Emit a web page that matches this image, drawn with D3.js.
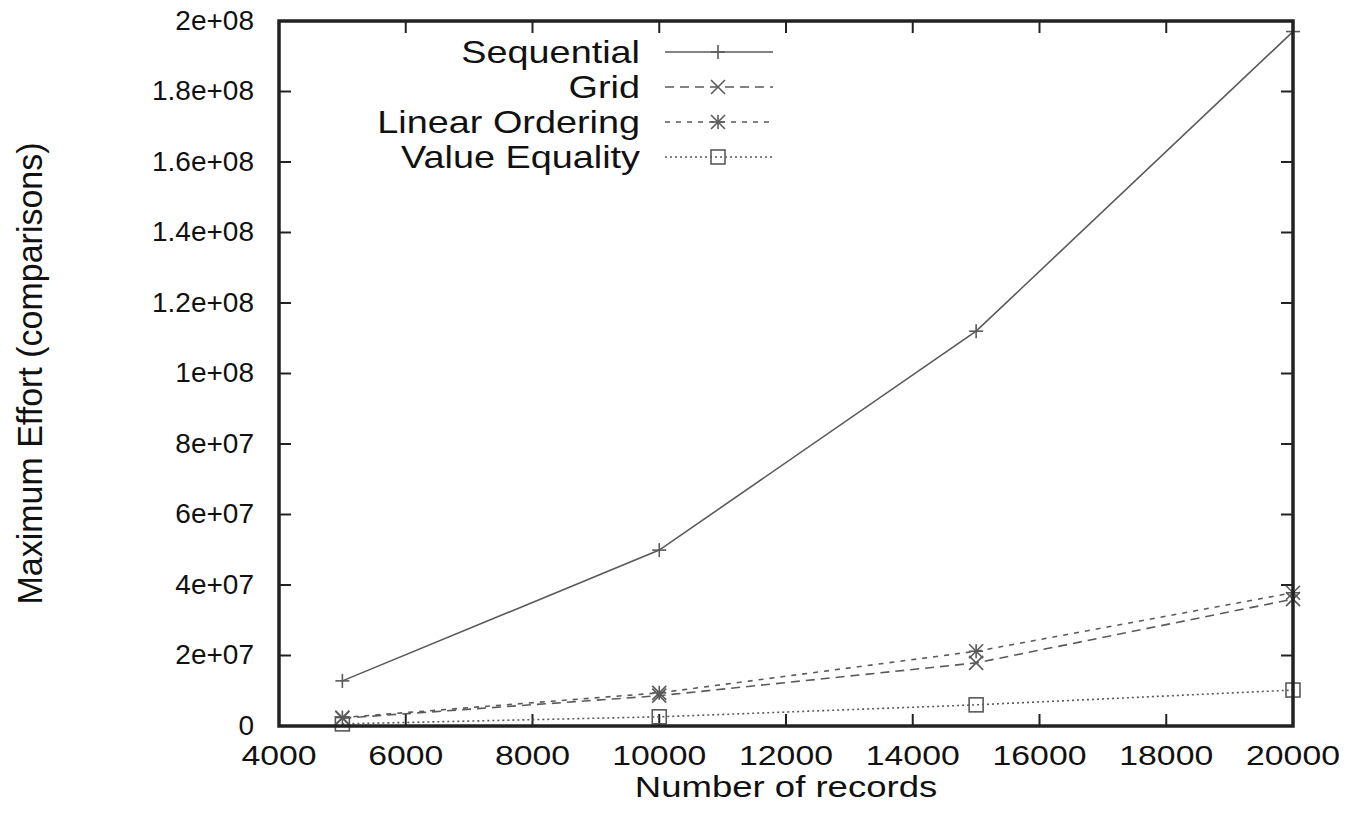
<!DOCTYPE html>
<html lang="en">
<head>
<meta charset="UTF-8">
<script src="https://cdn.jsdelivr.net/npm/d3@7"></script>
<style>
  body { margin: 0; background: #fff; }
  svg text { font-family: "Liberation Sans", Arial, sans-serif; fill: #111; }
</style>
</head>
<body>
<svg id="chart" width="1353" height="825"></svg>
<script>
// data
var records = [5000, 10000, 15000, 20000];
var sequential = [12.8e6, 49.9e6, 112e6, 197e6];
var grid = [2.2e6, 8.6e6, 17.9e6, 36e6];
var linearOrdering = [2.4e6, 9.4e6, 21.2e6, 37.8e6];
var valueEquality = [0.6e6, 2.6e6, 6e6, 10.2e6];

var xTicks = [4000, 6000, 8000, 10000, 12000, 14000, 16000, 18000, 20000];
var yTicks = [0, 2e7, 4e7, 6e7, 8e7, 1e8, 1.2e8, 1.4e8, 1.6e8, 1.8e8, 2e8];
var yTickLabels = ["0", "2e+07", "4e+07", "6e+07", "8e+07", "1e+08", "1.2e+08", "1.4e+08", "1.6e+08", "1.8e+08", "2e+08"];

var seriesNames = ["Sequential", "Grid", "Linear Ordering", "Value Equality"];
var seriesData = [sequential, grid, linearOrdering, valueEquality];
var dashes = [null, "9,6", "5,6", "2,3"];
var markers = ["plus", "cross", "star", "square"];

var margin = {left: 279, top: 21, right: 60, bottom: 99};
var W = 1353, H = 825;
var sx = 1.22; // the picture is stretched sideways

var svg = d3.select("#chart");
var x = d3.scaleLinear().domain([4000, 20000]).range([margin.left, W - margin.right]);
var y = d3.scaleLinear().domain([0, 2e8]).range([H - margin.bottom, margin.top]);

var tickLen = 12;
var axisCol = "#222";
var lineCol = "#5a5a5a";

// ticks on all four sides, pointing inward
var ticksG = svg.append("g").attr("stroke", axisCol).attr("stroke-width", 2);
xTicks.forEach(function(t) {
  ticksG.append("line").attr("x1", x(t)).attr("x2", x(t))
    .attr("y1", y(0)).attr("y2", y(0) - tickLen);
  ticksG.append("line").attr("x1", x(t)).attr("x2", x(t))
    .attr("y1", y(2e8)).attr("y2", y(2e8) + tickLen);
});
yTicks.forEach(function(t) {
  ticksG.append("line").attr("x1", x(4000)).attr("x2", x(4000) + tickLen)
    .attr("y1", y(t)).attr("y2", y(t));
  ticksG.append("line").attr("x1", x(20000)).attr("x2", x(20000) - tickLen)
    .attr("y1", y(t)).attr("y2", y(t));
});

// tick labels
svg.append("g").selectAll("text").data(xTicks).enter().append("text")
  .attr("transform", function(d) { return "translate(" + x(d) + "," + (y(0) + 39) + ") scale(1.25,1)"; })
  .attr("text-anchor", "middle")
  .attr("font-size", 27)
  .text(function(d) { return d; });

svg.append("g").selectAll("text").data(yTicks).enter().append("text")
  .attr("transform", function(d) { return "translate(" + (x(4000) - 25) + "," + (y(d) + 8.5) + ")"; })
  .attr("text-anchor", "end")
  .attr("font-size", 28)
  .text(function(d, i) { return yTickLabels[i]; });

// axis titles
svg.append("text")
  .attr("transform", "translate(" + ((x(4000) + x(20000)) / 2) + "," + (H - 28) + ") scale(1.26,1)")
  .attr("text-anchor", "middle")
  .attr("font-size", 29)
  .text("Number of records");

svg.append("text")
  .attr("transform", "translate(42," + ((y(0) + y(2e8)) / 2) + ") scale(1.02,1) rotate(-90)")
  .attr("text-anchor", "middle")
  .attr("font-size", 34)
  .text("Maximum Effort (comparisons)");

function drawMarker(g, kind, cx, cy) {
  var r = 7;
  var m = g.append("g").attr("transform", "translate(" + cx + "," + cy + ")")
    .attr("stroke", lineCol).attr("stroke-width", 1.6).attr("fill", "none");
  if (kind == "plus" || kind == "star") {
    m.append("line").attr("x1", -r).attr("x2", r).attr("y1", 0).attr("y2", 0);
    m.append("line").attr("x1", 0).attr("x2", 0).attr("y1", -r).attr("y2", r);
  }
  if (kind == "cross" || kind == "star") {
    m.append("line").attr("x1", -r).attr("x2", r).attr("y1", -r).attr("y2", r);
    m.append("line").attr("x1", -r).attr("x2", r).attr("y1", r).attr("y2", -r);
  }
  if (kind == "square") {
    m.append("rect").attr("x", -r).attr("y", -r).attr("width", 2 * r).attr("height", 2 * r);
  }
}

var line = d3.line()
  .x(function(d, i) { return x(records[i]); })
  .y(function(d) { return y(d); });

seriesData.forEach(function(vals, s) {
  var g = svg.append("g");
  g.append("path").datum(vals)
    .attr("d", line)
    .attr("fill", "none")
    .attr("stroke", lineCol)
    .attr("stroke-width", 1.6)
    .attr("stroke-dasharray", dashes[s]);
  vals.forEach(function(v, i) { drawMarker(g, markers[s], x(records[i]), y(v)); });
});

// legend
var legX = 640, legY = 52, legStep = 35;
seriesNames.forEach(function(name, s) {
  var ly = legY + s * legStep;
  svg.append("text")
    .attr("transform", "translate(" + legX + "," + (ly + 11) + ") scale(" + sx + ",1)")
    .attr("text-anchor", "end")
    .attr("font-size", 31)
    .text(name);
  svg.append("line")
    .attr("x1", 665).attr("x2", 773).attr("y1", ly).attr("y2", ly)
    .attr("stroke", lineCol).attr("stroke-width", 1.6)
    .attr("stroke-dasharray", dashes[s]);
  drawMarker(svg, markers[s], 718, ly);
});

// frame
svg.append("rect")
  .attr("x", x(4000)).attr("y", y(2e8))
  .attr("width", x(20000) - x(4000)).attr("height", y(0) - y(2e8))
  .attr("fill", "none").attr("stroke", axisCol).attr("stroke-width", 3.5);
</script>
</body>
</html>
